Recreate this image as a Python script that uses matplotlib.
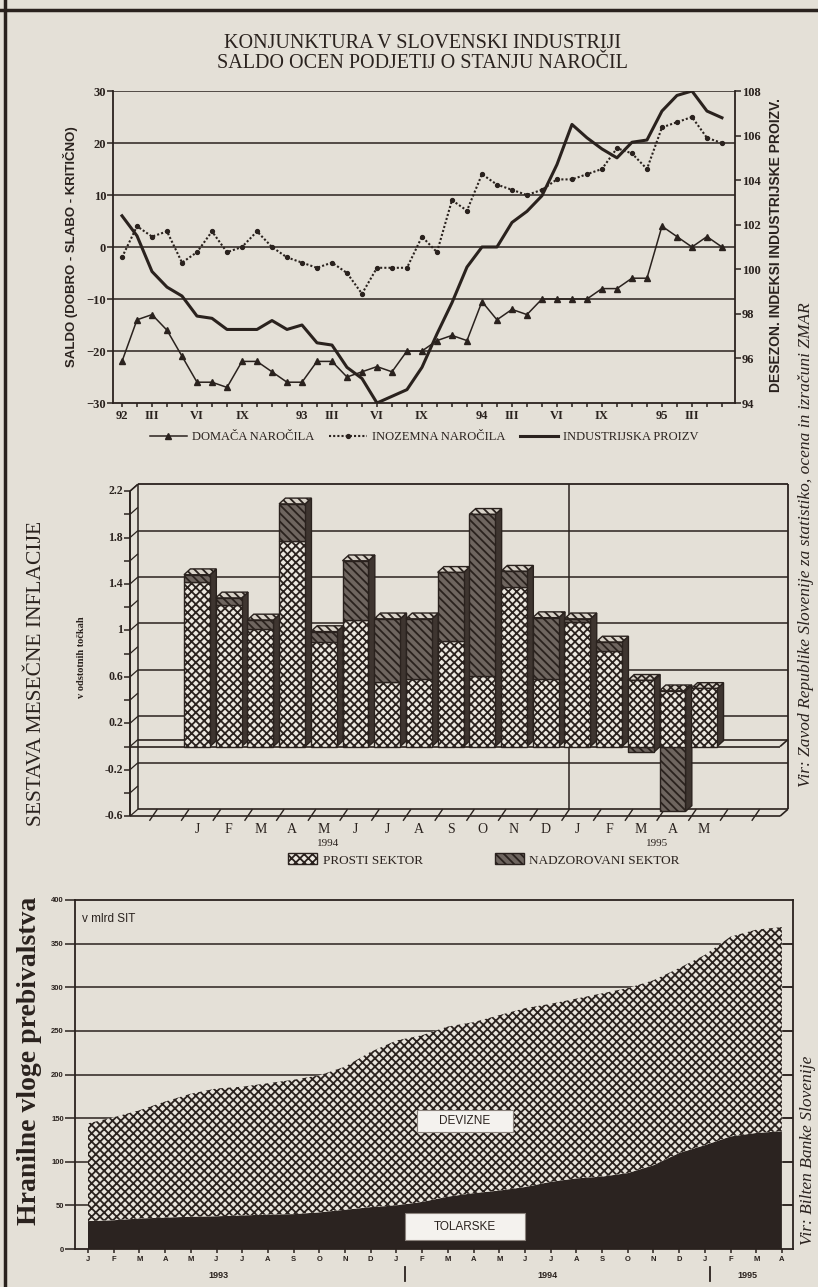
import matplotlib
matplotlib.use('Agg')
import matplotlib.pyplot as plt
from matplotlib.patches import Polygon, Rectangle, Patch
from matplotlib.lines import Line2D
import numpy as np

# --- podatki: konjunktura (jan 1992 - maj 1995) ---
domace = [-22, -14, -13, -16, -21, -26, -26, -27, -22, -22, -24, -26, -26, -22, -22, -25,
          -24, -23, -24, -20, -20, -18, -17, -18, -10.5, -14, -12, -13, -10, -10, -10, -10,
          -8, -8, -6, -6, 4, 2, 0, 2, 0]
inozemna = [-2, 4, 2, 3, -3, -1, 3, -1, 0, 3, 0, -2, -3, -4, -3, -5, -9, -4, -4, -4, 2, -1,
            9, 7, 14, 12, 11, 10, 11, 13, 13, 14, 15, 19, 18, 15, 23, 24, 25, 21, 20]
industrija = [102.4, 101.5, 99.9, 99.2, 98.8, 97.9, 97.8, 97.3, 97.3, 97.3, 97.7, 97.3, 97.5,
              96.7, 96.6, 95.6, 95.1, 94.0, 94.3, 94.6, 95.6, 97.1, 98.5, 100.1, 101.0, 101.0,
              102.1, 102.6, 103.3, 104.7, 106.5, 105.9, 105.4, 105.0, 105.7, 105.8, 107.1,
              107.8, 108.0, 107.1, 106.8]
top_tick_pos = [0, 2, 5, 8, 12, 14, 17, 20, 24, 26, 29, 32, 36, 38]
top_tick_lab = ['92', 'III', 'VI', 'IX', '93', 'III', 'VI', 'IX', '94', 'III', 'VI', 'IX', '95', 'III']

# --- podatki: sestava mesecne inflacije (jan 1994 - maj 1995) ---
mes_inf = ['J', 'F', 'M', 'A', 'M', 'J', 'J', 'A', 'S', 'O', 'N', 'D', 'J', 'F', 'M', 'A', 'M']
prosti = [1.42, 1.22, 1.01, 1.77, 0.90, 1.09, 0.56, 0.58, 0.91, 0.61, 1.37, 0.58, 1.07, 0.82, 0.57, 0.48, 0.50]
nadzor = [0.06, 0.06, 0.08, 0.32, 0.09, 0.51, 0.54, 0.52, 0.59, 1.39, 0.14, 0.53, 0.03, 0.08, -0.05, -0.56, 0.0]

# --- podatki: hranilne vloge (jan 1993 - apr 1995) ---
mes_vl = ['J', 'F', 'M', 'A', 'M', 'J', 'J', 'A', 'S', 'O', 'N', 'D'] * 2 + ['J', 'F', 'M', 'A']
tolarske = [32, 33, 35, 36, 37, 37.5, 38.5, 39.5, 40, 42, 45, 48, 50, 54, 60, 64, 67, 71, 77,
            81, 83, 87, 96, 110, 119, 129, 133, 135]
devizne = [112, 118, 124, 133, 141, 146.5, 147.5, 150.5, 154, 157, 164, 178, 189, 191, 195,
           196, 201, 205, 204, 206, 210, 212, 212, 212, 218, 229, 233, 234]

W, H = 818, 1287
PAPER = '#e4e0d7'
INK = '#2a221e'
SERIF = 'Liberation Serif'
NARROW = ['Liberation Sans Narrow', 'Liberation Sans']

plt.rcParams['hatch.linewidth'] = 1.3
plt.rcParams['hatch.color'] = INK

fig = plt.figure(figsize=(W / 100, H / 100), dpi=100, facecolor=PAPER)


def px_axes(l, t, r, b):
    ax = fig.add_axes([l / W, 1 - b / H, (r - l) / W, (b - t) / H])
    ax.set_facecolor('none')
    return ax


def ftext(x, y, s, **kw):
    fig.text(x / W, 1 - y / H, s, **kw)


def tick_font(labels, family, size, weight='bold'):
    for t in labels:
        t.set_family(family)
        t.set_fontsize(size)
        t.set_weight(weight)
        t.set_color(INK)


# okvir strani
fig.add_artist(Line2D([5 / W, 5 / W], [0, 1], color=INK, lw=2.5))
fig.add_artist(Line2D([0, 1], [1 - 10 / H, 1 - 10 / H], color=INK, lw=2.5))

# ================= zgornji graf =================
ftext(422, 43, 'KONJUNKTURA V SLOVENSKI INDUSTRIJI', ha='center', va='center',
      family=SERIF, fontsize=14.5, color=INK)
ftext(422, 63, 'SALDO OCEN PODJETIJ O STANJU NAROČIL', ha='center', va='center',
      family=SERIF, fontsize=14.5, color=INK)

ax1 = px_axes(113, 91, 735, 403)
m = np.arange(len(domace))
ax1.set_xlim(-0.6, 40.87)
ax1.set_ylim(-30, 30)
for v in range(-20, 31, 10):
    ax1.axhline(v, color=INK, lw=1.1, zorder=1)
ax1.plot(m, domace, color=INK, lw=1.1, marker='^', ms=4, zorder=3)
ax1.plot(m, inozemna, color=INK, lw=1.5, ls=(0, (1, 1)), marker='o', ms=2.8, zorder=3)
ax1.set_yticks(range(-30, 31, 10))
ax1.set_xticks(top_tick_pos, top_tick_lab)
ax1.set_xticks(range(41), minor=True)
ax1.tick_params(axis='both', which='both', color=INK, width=1.1, length=4, pad=1)
ax1.tick_params(axis='x', which='both', length=3, pad=2)
tick_font(ax1.get_yticklabels(), SERIF, 9)
tick_font(ax1.get_xticklabels(), SERIF, 9)
for s in ['top', 'right']:
    ax1.spines[s].set_visible(False)
for s in ['left', 'bottom']:
    ax1.spines[s].set_color(INK)
    ax1.spines[s].set_linewidth(1.3)

ax1r = ax1.twinx()
ax1r.set_facecolor('none')
ax1r.set_ylim(94, 108)
ax1r.plot(m, industrija, color=INK, lw=2.2, zorder=3)
ax1r.set_yticks(range(94, 109, 2))
ax1r.tick_params(axis='y', color=INK, width=1.1, length=4, pad=1)
tick_font(ax1r.get_yticklabels(), SERIF, 9)
for s in ['top', 'left', 'bottom']:
    ax1r.spines[s].set_visible(False)
ax1r.spines['right'].set_color(INK)
ax1r.spines['right'].set_linewidth(1.3)

ftext(70, 247, 'SALDO (DOBRO - SLABO - KRITIČNO)', rotation=90, ha='center', va='center',
      family=NARROW, fontsize=9.5, weight='bold', color=INK)
ftext(776, 245, 'DESEZON. INDEKSI INDUSTRIJSKE PROIZV.', rotation=90, ha='center', va='center',
      family=NARROW, fontsize=10, weight='bold', color=INK)

h_top = [Line2D([], [], color=INK, lw=1.1, marker='^', ms=5),
         Line2D([], [], color=INK, lw=1.5, ls=(0, (1, 1)), marker='o', ms=2.8),
         Line2D([], [], color=INK, lw=2.2)]
fig.legend(h_top, ['DOMAČA NAROČILA', 'INOZEMNA NAROČILA', 'INDUSTRIJSKA PROIZV'],
           loc='center', bbox_to_anchor=(424 / W, 1 - 437 / H), ncol=3, frameon=False,
           prop={'family': SERIF, 'size': 9}, handlelength=3, columnspacing=1.2,
           handletextpad=0.4, labelcolor=INK)

# ================= srednji graf (3D stolpci) =================
ax2 = px_axes(118, 478, 795, 822)
ax2.set_xlim((118 - 197) / 31.7, (795 - 197) / 31.7)
ax2.set_ylim((746.5 - 822) / 116.07, (746.5 - 478) / 116.07)
ax2.axis('off')
FX = (130 - 197) / 31.7
BX = FX + 0.25
RX = (788 - 197) / 31.7
RXF = RX - 0.25
DY = 0.06


def seg(xs, ys, lw=1.1, z=1):
    ax2.plot(xs, ys, color=INK, lw=lw, zorder=z, clip_on=False, solid_capstyle='butt')


# zadnja stena in mreza
for v in [1.8, 1.4, 1.0, 0.6, 0.2, -0.2]:
    seg([BX, RX], [v + DY, v + DY])
seg([BX, RX], [2.2 + DY, 2.2 + DY], 1.3)
seg([BX, BX], [-0.6 + DY, 2.2 + DY])
seg([RX, RX], [-0.6 + DY, 2.2 + DY], 1.3)
seg([11.75, 11.75], [-0.6 + DY, 2.2 + DY])
# tla pri 0 in spodaj
for v in [0, -0.6]:
    seg([FX, RXF], [v, v], 1.2, 1.5)
    seg([BX, RX], [v + DY, v + DY], 1.2, 1.5)
    seg([RXF, RX], [v, v + DY], 1.2, 1.5)
for b in np.arange(-1.5, 17.6, 1):
    seg([b, b + 0.25], [-0.64, -0.6 + DY], 1.0, 1.5)
# leva os
seg([FX, FX], [-0.6, 2.2], 1.4, 5)
seg([FX, BX], [2.2, 2.2 + DY], 1.1, 5)
for v in np.arange(-0.6, 2.21, 0.2):
    seg([FX - 0.2, FX], [v, v], 1.1, 5)
    seg([FX, BX], [v, v + DY], 0.9, 5)
for v, lab in zip([2.2, 1.8, 1.4, 1.0, 0.6, 0.2, -0.2, -0.6],
                  ['2.2', '1.8', '1.4', '1', '0.6', '0.2', '-0.2', '-0.6']):
    ax2.text(FX - 0.22, v, lab, ha='right', va='center', family=SERIF, fontsize=8.5,
             weight='bold', color=INK)

HW, BDX, BDY = 0.41, 0.2, 0.05
ST_P = dict(facecolor='#ece8e0', hatch='xxxx', edgecolor=INK, lw=1.0)
ST_N = dict(facecolor='#6e655f', hatch='\\\\\\\\', edgecolor=INK, lw=1.0)


def poly(pts, z, **kw):
    ax2.add_patch(Polygon(pts, closed=True, zorder=z, clip_on=False, **kw))


for i, (p, n) in enumerate(zip(prosti, nadzor)):
    z = 3 + i * 0.01
    if n >= 0:
        parts = [(0, p, ST_P), (p, p + n, ST_N)]
        lo, hi = 0, p + n
        top_st = ST_N if n > 0 else ST_P
    else:
        parts = [(n, 0, ST_N), (0, p, ST_P)]
        lo, hi = n, p
        top_st = ST_P
    poly([(i + HW, lo), (i + HW + BDX, lo + BDY), (i + HW + BDX, hi + BDY), (i + HW, hi)],
         z, facecolor='#3e3530', edgecolor=INK, lw=1.0)
    poly([(i - HW, hi), (i + HW, hi), (i + HW + BDX, hi + BDY), (i - HW + BDX, hi + BDY)],
         z, **dict(top_st, facecolor='#d8d2c8'))
    for y0, y1, st in parts:
        if y1 > y0:
            poly([(i - HW, y0), (i + HW, y0), (i + HW, y1), (i - HW, y1)], z, **st)
    ax2.text(i, -0.655, mes_inf[i], ha='center', va='top', family=SERIF, fontsize=10,
             color=INK)

ftext(328, 843, '1994', ha='center', va='center', family=SERIF, fontsize=8, color=INK)
ftext(657, 843, '1995', ha='center', va='center', family=SERIF, fontsize=8, color=INK)
h_mid = [Patch(**ST_P), Patch(**ST_N)]
fig.legend(h_mid, ['PROSTI SEKTOR', 'NADZOROVANI SEKTOR'], loc='center',
           bbox_to_anchor=(484 / W, 1 - 860 / H), ncol=2, frameon=False,
           prop={'family': SERIF, 'size': 9.5}, handlelength=2.2, handleheight=0.9,
           columnspacing=5.5, handletextpad=0.4, labelcolor=INK)
ftext(37, 673, 'SESTAVA MESEČNE INFLACIJE', rotation=90, ha='center', va='center',
      family=SERIF, fontsize=15.5, color=INK)
ftext(82, 657, 'v odstotnih točkah', rotation=90, ha='center', va='center',
      family=SERIF, fontsize=7.5, weight='bold', color=INK)

# ================= spodnji graf =================
ax3 = px_axes(75, 900, 793, 1249)
x = np.arange(len(tolarske))
ax3.set_xlim((75 - 88) / 25.7, (793 - 88) / 25.7)
ax3.set_ylim(0, 400)
for v in range(50, 351, 50):
    ax3.axhline(v, color=INK, lw=1.1, zorder=0)
tol = np.array(tolarske)
skupaj = tol + np.array(devizne)
ax3.fill_between(x, 0, tol, facecolor='#2b2320', edgecolor='none', zorder=2)
ax3.fill_between(x, tol, skupaj, facecolor='#e8e4dc', hatch='xxxx', edgecolor=INK, lw=0, zorder=2)
xr = (793 - 88) / 25.7
ax3.hlines(range(50, 351, 50), xr - 0.39, xr, color=INK, lw=1.1, zorder=4)
ax3.set_yticks(range(0, 401, 50))
ax3.set_xticks(x, mes_vl)
ax3.tick_params(axis='y', color=INK, width=1.1, length=7, pad=1)
ax3.tick_params(axis='x', color=INK, width=1.1, length=3, pad=2)
tick_font(ax3.get_yticklabels(), NARROW, 5.5)
tick_font(ax3.get_xticklabels(), NARROW, 5.5)
for s in ax3.spines.values():
    s.set_color(INK)
    s.set_linewidth(1.3)

ftext(82, 919, 'v mlrd SIT', ha='left', va='center', family='Liberation Sans', fontsize=8.5,
      color=INK)
for l, t, r, b, lab in [(417, 1110, 513, 1132, 'DEVIZNE'), (405, 1213, 525, 1240, 'TOLARSKE')]:
    fig.add_artist(Rectangle((l / W, 1 - b / H), (r - l) / W, (b - t) / H, facecolor='#f4f2ee',
                             edgecolor='#8a827c', lw=0.8, zorder=3))
    ftext((l + r) / 2, (t + b) / 2, lab, ha='center', va='center', family='Liberation Sans',
          fontsize=8.5, color=INK, zorder=4)
ftext(218, 1275, '1993', ha='center', va='center', family=NARROW, fontsize=6.5, weight='bold', color=INK)
ftext(547, 1275, '1994', ha='center', va='center', family=NARROW, fontsize=6.5, weight='bold', color=INK)
ftext(747, 1275, '1995', ha='center', va='center', family=NARROW, fontsize=6.5, weight='bold', color=INK)
for xs in [405, 710]:
    fig.add_artist(Line2D([xs / W, xs / W], [1 - 1267 / H, 1 - 1281 / H], color=INK, lw=1.3))
ftext(30, 1061, 'Hranilne vloge prebivalstva', rotation=90, ha='center', va='center',
      family=SERIF, fontsize=20, weight='bold', color=INK)

# viri
ftext(806, 545, 'Vir: Zavod Republike Slovenije za statistiko, ocena in izračuni ZMAR',
      rotation=90, ha='center', va='center', family=SERIF, style='italic', fontsize=12.5, color=INK)
ftext(808, 1150, 'Vir: Bilten Banke Slovenije', rotation=90, ha='center', va='center',
      family=SERIF, style='italic', fontsize=12.5, color=INK)

fig.savefig('out.png', dpi=100, facecolor=PAPER)
